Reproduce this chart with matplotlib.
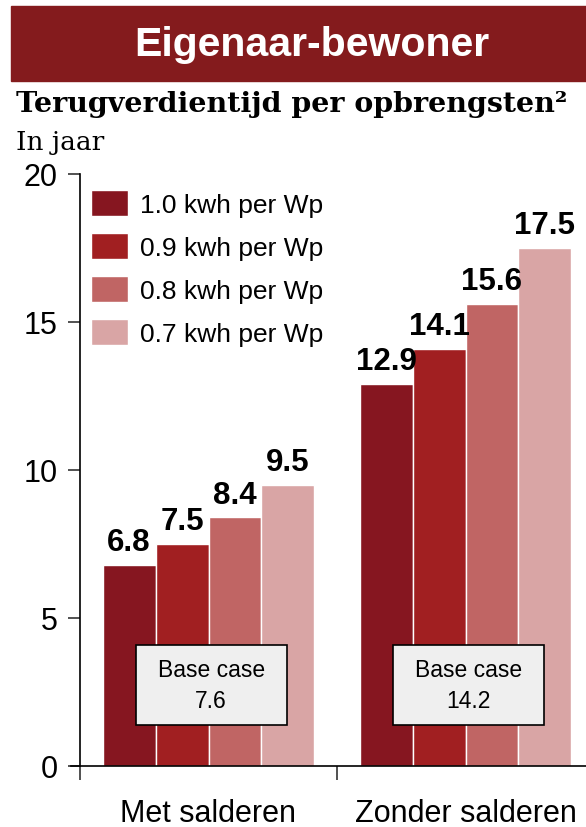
import numpy as np
import matplotlib.pyplot as plt
from matplotlib.patches import Rectangle

# terugverdientijd (jaar) per scenario en opbrengst
categories = ["Met salderen", "Zonder salderen"]
series = ["1.0 kwh per Wp", "0.9 kwh per Wp", "0.8 kwh per Wp", "0.7 kwh per Wp"]
values = [
    [6.8, 12.9],
    [7.5, 14.1],
    [8.4, 15.6],
    [9.5, 17.5],
]
base_case = [7.6, 14.2]
colors = ["#861620", "#A11F21", "#C06564", "#D9A5A5"]

plt.rcParams["font.family"] = ["Liberation Sans", "DejaVu Sans"]
serif = ["DejaVu Serif"]

fig = plt.figure(figsize=(5.86, 8.28), dpi=100)

# banner bovenaan
fig.patches.append(Rectangle((11 / 586, 1 - 82 / 828), 1, 75 / 828,
                             transform=fig.transFigure, color="#841B1D", zorder=0))
fig.text(312 / 586, 1 - 45 / 828, "Eigenaar-bewoner", color="white",
         fontsize=29.5, fontweight="bold", ha="center", va="center")
fig.text(16 / 586, 1 - 112 / 828, "Terugverdientijd per opbrengsten²",
         family=serif, fontweight="bold", fontsize=20.5, ha="left", va="baseline")
fig.text(16 / 586, 1 - 150 / 828, "In jaar",
         family=serif, fontsize=19, ha="left", va="baseline")

ax = fig.add_axes([80 / 586, 61 / 828, 514 / 586, 592 / 828])
x = np.arange(len(categories))
w = 0.206
for i, (name, vals, c) in enumerate(zip(series, values, colors)):
    pos = x + (i - 1.5) * w
    ax.bar(pos, vals, w, color=c, edgecolor="white", linewidth=1, label=name)
    for p, v in zip(pos, vals):
        ax.text(p, v + 0.5, f"{v:.1f}", ha="center", va="baseline",
                fontsize=22.5, fontweight="bold")

# kaders met de base case
bw, bh = 0.588, 2.7
for xi, b in zip(x, base_case):
    cx, cy = xi + 0.01, 2.74
    ax.add_patch(Rectangle((cx - bw / 2, cy - bh / 2), bw, bh, fc="#EFEFEF",
                           ec="black", lw=1.2, zorder=3))
    ax.text(cx, cy, f"Base case\n{b:.1f}", ha="center", va="center",
            fontsize=16.5, linespacing=1.45, zorder=4)

ax.set_xlim(-0.5, 1.5)
ax.set_ylim(0, 20)
ax.set_yticks([0, 5, 10, 15, 20])
ax.tick_params(axis="y", labelsize=22, length=9, width=1.2, color="#333333", pad=7)
ax.set_xticks([-0.5, 0.5, 1.5])
ax.set_xticklabels([])
ax.tick_params(axis="x", length=10, width=1.2, color="#333333")
for xi, name in zip(x, categories):
    ax.text(xi, -1.6, name, ha="center", va="center", fontsize=22)

for s in ["top", "right"]:
    ax.spines[s].set_visible(False)
ax.spines["left"].set_linewidth(1.2)
ax.spines["bottom"].set_linewidth(1.2)
ax.spines["bottom"].set_bounds(-0.535, 1.5)

ax.legend(loc="upper left", bbox_to_anchor=(0.001, 0.99), frameon=False,
          fontsize=19, handlelength=1.4, handleheight=1.1, handletextpad=0.45,
          labelspacing=0.62, borderaxespad=0)

fig.savefig("out.png", dpi=100)
